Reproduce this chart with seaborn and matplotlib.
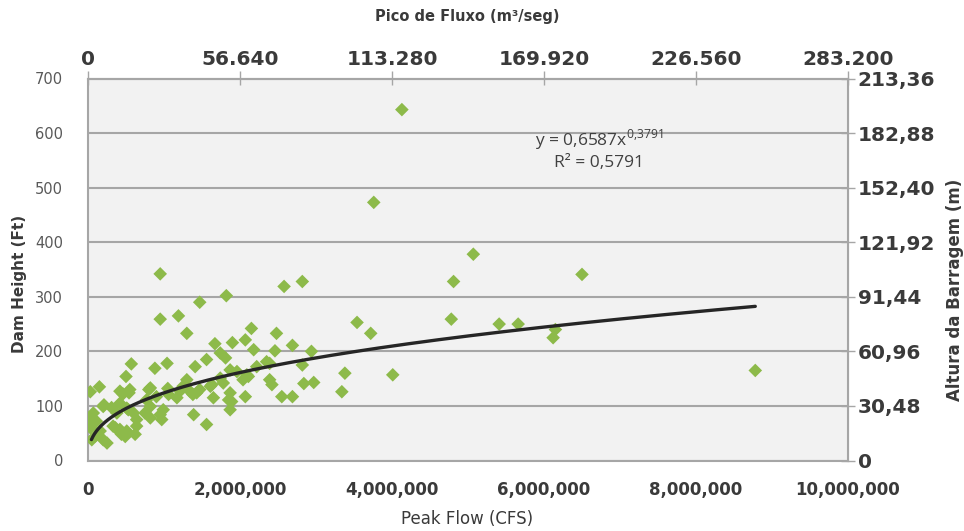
import numpy as np
import pandas as pd
import matplotlib
matplotlib.use("Agg")
import matplotlib.pyplot as plt
import seaborn as sns

# Peak flow (millions of CFS) and dam height (ft) for each dam
peak_flow_mcfs = [
    4.13, 3.76, 5.07, 6.50, 4.81, 2.82, 2.58, 1.82, 1.47, 0.95,
    0.95, 1.19, 1.30, 3.54, 4.78, 3.72, 5.41, 5.66, 6.15, 6.12,
    8.78, 4.01, 3.38, 3.34, 2.94, 2.82, 2.84, 2.97, 2.15, 2.48,
    1.90, 2.07, 1.67, 1.74, 1.81, 2.18, 2.46, 2.69, 1.56, 0.57,
    1.04, 0.88, 1.41, 2.35, 2.39, 1.87, 1.96, 2.22, 2.11, 2.04,
    2.39, 2.42, 2.55, 2.69, 1.78, 1.61, 1.47, 1.38, 1.65, 1.87,
    1.89, 2.07, 1.87, 1.39, 1.56, 1.30, 1.25, 1.34, 1.63, 1.74,
    2.09, 1.85, 0.50, 0.03, 0.15, 0.46, 0.54, 0.80, 0.21, 0.31,
    0.07, 0.42, 0.51, 0.60, 0.75, 0.82, 0.95, 0.97, 1.21, 1.43,
    0.03, 0.05, 0.20, 0.25, 0.42, 0.49, 0.62, 0.64, 0.33, 0.11,
    0.01, 0.82, 0.99, 0.77, 0.90, 0.82, 1.06, 1.17, 0.55, 0.42,
    0.38, 0.64, 0.16, 0.09, 0.36, 0.51, 0.44, 0.20, 0.53, 1.05,
]
dam_height_ft = [
    643, 473, 378, 341, 328, 328, 319, 302, 290, 342,
    259, 265, 233, 253, 259, 233, 250, 250, 240, 225,
    165, 157, 160, 126, 200, 175, 141, 143, 242, 233,
    216, 221, 214, 197, 188, 203, 201, 211, 185, 177,
    178, 169, 172, 181, 178, 166, 163, 172, 154, 148,
    148, 139, 117, 117, 142, 136, 130, 121, 115, 124,
    108, 117, 93, 84, 66, 148, 136, 127, 139, 151,
    157, 111, 154, 126, 135, 122, 124, 130, 102, 97,
    87, 105, 96, 87, 87, 99, 84, 75, 127, 124,
    60, 38, 38, 32, 57, 44, 48, 63, 63, 72,
    75, 78, 93, 111, 117, 133, 121, 115, 130, 127,
    87, 75, 54, 44, 60, 54, 48, 99, 93, 132,
]

# Power-law trendline y = a * x^b
fit_a = 0.6587
fit_b = 0.3791
fit_r2 = 0.5791

# Axis ticks and their secondary (metric) labels
x_ticks = [0, 2_000_000, 4_000_000, 6_000_000, 8_000_000, 10_000_000]
x_labels = ["0", "2,000,000", "4,000,000", "6,000,000", "8,000,000", "10,000,000"]
x_top_labels = ["0", "56.640", "113.280", "169.920", "226.560", "283.200"]
y_ticks = [0, 100, 200, 300, 400, 500, 600, 700]
y_right_labels = ["0", "30,48", "60,96", "91,44", "121,92", "152,40", "182,88", "213,36"]

df = pd.DataFrame({
    "flow": np.array(peak_flow_mcfs) * 1_000_000,
    "height": dam_height_ft,
})

xs = np.linspace(df["flow"].min() + 35_000, df["flow"].max(), 400)
trend = pd.DataFrame({"flow": xs, "height": fit_a * xs ** fit_b})

sns.set_style("white")
plt.rcParams["font.family"] = ["DejaVu Sans"]

dark = "#3a3a3a"
grid_c = "#a6a6a6"
W, H = 964, 531

fig = plt.figure(figsize=(W / 100, H / 100), dpi=100)
ax = fig.add_axes([88 / W, 1 - 460.5 / H, (848 - 88) / W, (460.5 - 78.5) / H])
ax.set_facecolor("#f2f2f2")

sns.scatterplot(data=df, x="flow", y="height", marker="D", s=48,
                color="#8dba4a", edgecolor="none", linewidth=0, ax=ax, zorder=3)
sns.lineplot(data=trend, x="flow", y="height", color="#262626", linewidth=2.4,
             ax=ax, zorder=4)

ax.set_xlim(0, 10_000_000)
ax.set_ylim(0, 700)
ax.set_yticks(y_ticks)
ax.set_yticklabels([str(v) for v in y_ticks], color="#595959", fontsize=10.5)
ax.set_xticks(x_ticks)
ax.set_xticklabels(x_labels, fontweight="bold", fontsize=12, color=dark)
ax.yaxis.grid(True, color=grid_c, linewidth=1.5, zorder=0)
ax.xaxis.grid(False)
ax.set_axisbelow(True)
ax.tick_params(axis="x", direction="out", length=5, color=grid_c, width=1, pad=10)
ax.tick_params(axis="y", direction="out", length=5, color=grid_c, width=1, pad=13)
for side in ["left", "bottom", "right", "top"]:
    ax.spines[side].set_color(grid_c)
    ax.spines[side].set_linewidth(1.5)
ax.set_xlabel("")
ax.set_ylabel("")

# Metric equivalents on the opposite axes
top = ax.secondary_xaxis("top")
top.set_xticks(x_ticks)
top.set_xticklabels(x_top_labels, fontweight="bold", fontsize=14.5, color=dark)
top.tick_params(direction="inout", length=10, color=grid_c, width=1, pad=2)
top.spines["top"].set_color(grid_c)

right = ax.secondary_yaxis("right")
right.set_yticks(y_ticks)
right.set_yticklabels(y_right_labels, fontweight="bold", fontsize=14.5, color=dark)
right.tick_params(direction="inout", length=10, color=grid_c, width=1, pad=2)
right.spines["right"].set_color(grid_c)

# Axis titles
fig.text(467 / W, 1 - 17 / H, "Pico de Fluxo (m³/seg)", ha="center", va="center",
         fontweight="bold", fontsize=10.5, color=dark)
fig.text(467 / W, 1 - 519 / H, "Peak Flow (CFS)", ha="center", va="center",
         fontsize=12, color=dark)
fig.text(20 / W, 1 - 284 / H, "Dam Height (Ft)", ha="center", va="center",
         rotation=90, fontweight="bold", fontsize=11, color=dark)
fig.text(955 / W, 1 - 290 / H, "Altura da Barragem (m)", ha="center", va="center",
         rotation=90, fontweight="bold", fontsize=12, color=dark)

# Trendline equation
eq_font = ["Open Sans", "DejaVu Sans"]
fig.text(599 / W, 1 - 140 / H, r"y = 0,6587x$^{\mathregular{0{,}3791}}$",
         ha="center", va="center", fontfamily=eq_font, fontsize=12.5, color="#404040")
fig.text(599 / W, 1 - 163 / H, "R² = " + f"{fit_r2:.4f}".replace(".", ","),
         ha="center", va="center", fontfamily=eq_font, fontsize=12.5, color="#404040")

fig.savefig("out.png", dpi=100, facecolor="white")
